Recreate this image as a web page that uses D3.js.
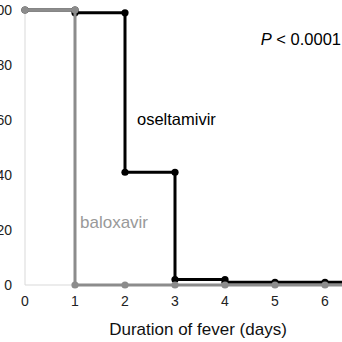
<!DOCTYPE html>
<html><head><meta charset="utf-8">
<script src="https://cdn.jsdelivr.net/npm/d3@7"></script>
<style>html,body{margin:0;padding:0;background:#fff;overflow:hidden}</style>
</head><body>
<script>
const days = [0, 1, 2, 3, 4, 5, 6];
const baloxavir = [100, 0, 0, 0, 0, 0, 0];
const oseltamivir = [100, 99, 41, 2, 1, 1, 1];
const xTicks = [0, 1, 2, 3, 4, 5, 6];
const yTicks = [0, 20, 40, 60, 80, 100];

const W = 342, H = 342;
const svg = d3.select("body").append("svg").attr("width", W).attr("height", H)
  .style("font-family", "Arial, 'Liberation Sans', sans-serif");

const x = d3.scaleLinear().domain([0, 7]).range([25, 375]);
const y = d3.scaleLinear().domain([0, 100]).range([285, 10]);

svg.append("line").attr("x1", x(0)).attr("x2", x(0)).attr("y1", y(100)).attr("y2", y(0))
  .attr("stroke", "#d9d9d9").attr("stroke-width", 1);
svg.append("line").attr("x1", x(0)).attr("x2", W).attr("y1", y(0)).attr("y2", y(0))
  .attr("stroke", "#d9d9d9").attr("stroke-width", 1);

svg.selectAll(".yt").data(yTicks).enter().append("text")
  .attr("x", 12).attr("y", d => y(d)).attr("dy", "0.35em")
  .attr("text-anchor", "end").attr("font-size", 14).attr("fill", "#222")
  .text(d => d);
svg.selectAll(".xt").data(xTicks).enter().append("text")
  .attr("x", d => x(d)).attr("y", 301).attr("dy", "0.35em")
  .attr("text-anchor", "middle").attr("font-size", 14).attr("fill", "#222")
  .text(d => d);

function stepPoints(vals) {
  const pts = [];
  days.forEach((d, i) => {
    if (i > 0) pts.push([d, vals[i - 1]]);
    pts.push([d, vals[i]]);
  });
  pts.push([x.domain()[1], vals[vals.length - 1]]);
  return pts;
}
function dotPoints(vals) {
  const pts = [];
  days.forEach((d, i) => {
    if (i > 0 && vals[i - 1] !== vals[i]) pts.push([d, vals[i - 1]]);
    pts.push([d, vals[i]]);
  });
  return pts;
}
const line = d3.line().x(p => x(p[0])).y(p => y(p[1]));

function drawSeries(vals, color) {
  svg.append("path").datum(stepPoints(vals)).attr("d", line)
    .attr("fill", "none").attr("stroke", color).attr("stroke-width", 3)
    .attr("stroke-linejoin", "miter");
  svg.selectAll(null).data(dotPoints(vals)).enter().append("circle")
    .attr("cx", p => x(p[0])).attr("cy", p => y(p[1])).attr("r", 3.6)
    .attr("fill", color);
}
drawSeries(oseltamivir, "#000");
drawSeries(baloxavir, "#8c8c8c");

svg.append("text").attr("x", 137).attr("y", 125).attr("font-size", 16.5).attr("fill", "#000")
  .text("oseltamivir");
svg.append("text").attr("x", 80).attr("y", 228).attr("font-size", 17).attr("fill", "#999")
  .text("baloxavir");
const pt = svg.append("text").attr("x", 341).attr("y", 45).attr("font-size", 16.5)
  .attr("text-anchor", "end").attr("fill", "#000");
pt.append("tspan").attr("font-style", "italic").text("P");
pt.append("tspan").text(" < 0.0001");
svg.append("text").attr("x", 198).attr("y", 335).attr("font-size", 17)
  .attr("text-anchor", "middle").attr("fill", "#111").text("Duration of fever (days)");
</script>
</body></html>
